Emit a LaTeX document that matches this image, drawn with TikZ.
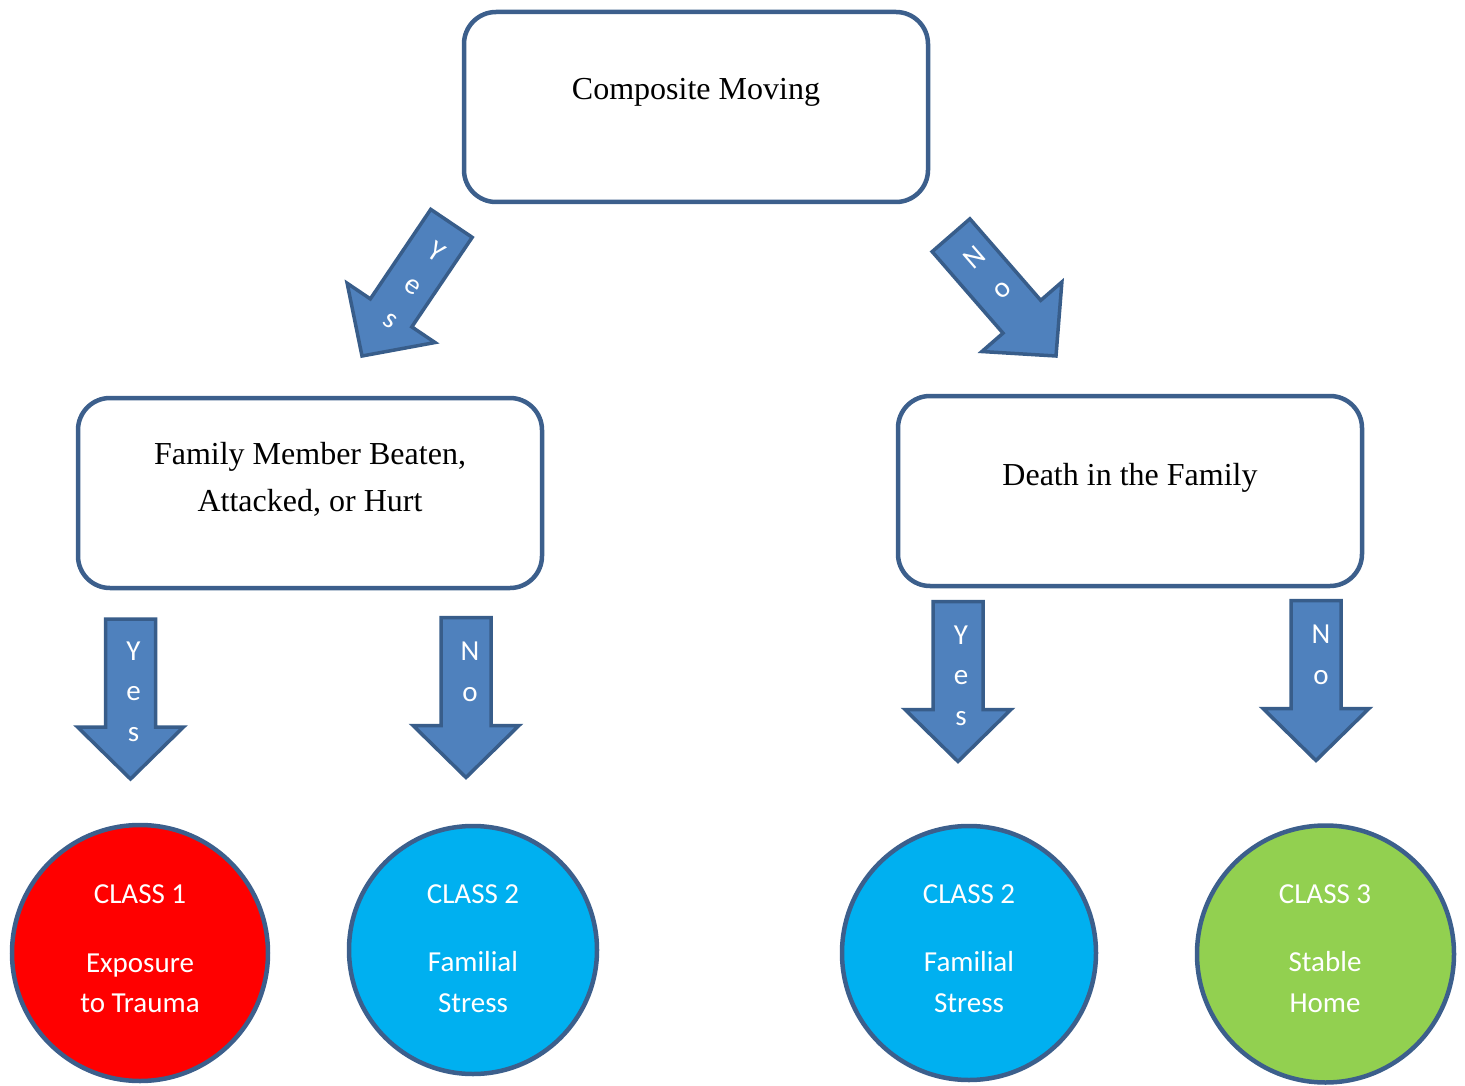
\documentclass[tikz,border=0pt]{standalone}
\usepackage{fontspec}
\setmainfont{Liberation Serif}
\newfontfamily\calfont{Carlito}
\definecolor{bordc}{HTML}{3C5F8C}
\definecolor{arrfill}{HTML}{4F81BD}
\definecolor{arrbord}{HTML}{385D8A}
\definecolor{redc}{HTML}{FF0000}
\definecolor{bluec}{HTML}{00B0F0}
\definecolor{greenc}{HTML}{92D050}
\tikzset{
  decbox/.style={draw=bordc, line width=4.5pt, rounded corners=32pt, fill=white, minimum width=464pt, minimum height=190pt, inner sep=0pt},
  boxtext/.style={font=\fontsize{32}{47}\selectfont, anchor=base, inner sep=0pt},
  classcirc/.style={circle, draw=bordc, line width=4.5pt, inner sep=0pt},
  circtext/.style={font=\calfont\fontsize{29}{35}\selectfont, text=white, anchor=base, inner sep=0pt},
  arrtext/.style={font=\calfont\fontsize{29}{41}\selectfont, text=white, anchor=base, inner sep=0pt, transform shape},
  blockarrow/.style={draw=arrbord, fill=arrfill, line width=3.5pt, line join=miter},
}
\newcommand\arrowshape{\path[blockarrow] (-25,-160) -- (25,-160) -- (25,-52) -- (53,-52) -- (0,0) -- (-53,-52) -- (-25,-52) -- cycle;}
\begin{document}
\begin{tikzpicture}[x=1pt,y=-1pt]
\useasboundingbox (0,0) rectangle (1465,1086);
% boxes
\node[decbox] (top) at (696,107) {};
\node[boxtext] (toptxt) at (696,100) {Composite Moving};
\node[decbox] (left) at (310,493) {};
\node[boxtext] (lefttxt1) at (310,464) {Family Member Beaten,};
\node[boxtext] (lefttxt2) at (310,511) {Attacked, or Hurt};
\node[decbox] (right) at (1130,491) {};
\node[boxtext] (righttxt) at (1130,485) {Death in the Family};
% diagonal arrows
\begin{scope}[shift={(362,356)}, rotate=-34]
  \arrowshape
  \node[arrtext] (dy1) at (3,-119) {Y};
  \node[arrtext] (dy2) at (3,-79) {e};
  \node[arrtext] (dy3) at (3,-38) {s};
\end{scope}
\begin{scope}[shift={(1056,356)}, rotate=41]
  \arrowshape
  \node[arrtext] (dn1) at (3,-119) {N};
  \node[arrtext] (dn2) at (3,-78) {o};
\end{scope}
% vertical arrows
\begin{scope}[shift={(130.5,779)}]
  \arrowshape
  \node[arrtext] (ly1) at (3,-119) {Y};
  \node[arrtext] (ly2) at (3,-79) {e};
  \node[arrtext] (ly3) at (3,-38) {s};
\end{scope}
\begin{scope}[shift={(466,777.5)}]
  \arrowshape
  \node[arrtext] (ln1) at (4,-117) {N};
  \node[arrtext] (ln2) at (4,-76) {o};
\end{scope}
\begin{scope}[shift={(958,761.5)}]
  \arrowshape
  \node[arrtext] (ry1) at (3,-117) {Y};
  \node[arrtext] (ry2) at (3,-77) {e};
  \node[arrtext] (ry3) at (3,-36) {s};
\end{scope}
\begin{scope}[shift={(1316,760.5)}]
  \arrowshape
  \node[arrtext] (rn1) at (5,-117) {N};
  \node[arrtext] (rn2) at (5,-76) {o};
\end{scope}
% circles
\node[classcirc, fill=redc, minimum size=256pt] (c1) at (140,953) {};
\node[circtext] (c1a) at (140,903) {CLASS 1};
\node[circtext] (c1b) at (140,972) {Exposure};
\node[circtext] (c1c) at (140,1012) {to Trauma};
\node[classcirc, fill=bluec, minimum size=248pt] (c2) at (473,950) {};
\node[circtext] (c2a) at (473,903) {CLASS 2};
\node[circtext] (c2b) at (473,971) {Familial};
\node[circtext] (c2c) at (473,1012) {Stress};
\node[classcirc, fill=bluec, minimum size=254pt] (c3) at (969,953) {};
\node[circtext] (c3a) at (969,903) {CLASS 2};
\node[circtext] (c3b) at (969,971) {Familial};
\node[circtext] (c3c) at (969,1012) {Stress};
\node[classcirc, fill=greenc, minimum size=257pt] (c4) at (1325.5,954) {};
\node[circtext] (c4a) at (1325,903) {CLASS 3};
\node[circtext] (c4b) at (1325,971) {Stable};
\node[circtext] (c4c) at (1325,1012) {Home};
\end{tikzpicture}
\end{document}
